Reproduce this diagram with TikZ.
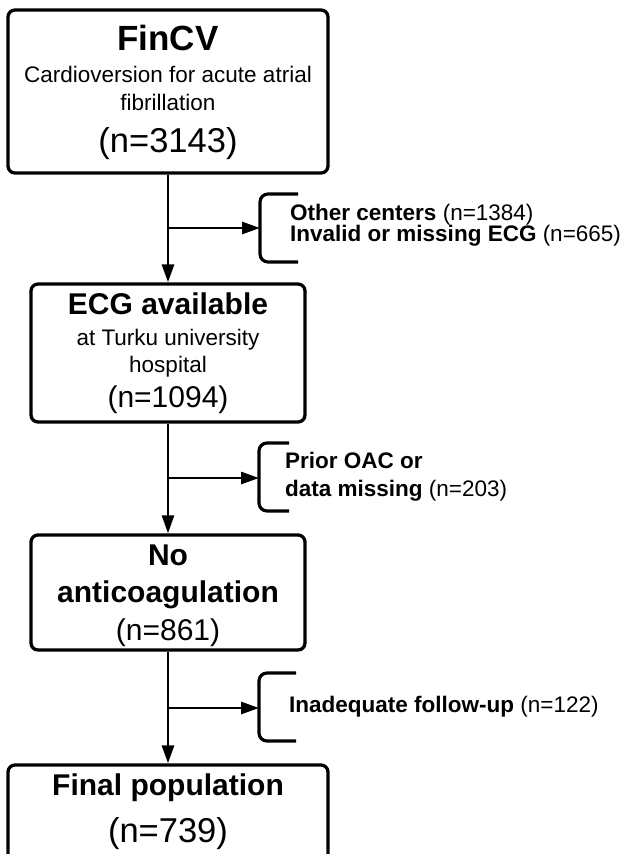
\documentclass[tikz,border=0pt]{standalone}
\usepackage{fontspec}
\setmainfont{Liberation Sans}
\usetikzlibrary{arrows.meta}
\tikzset{
  box/.style={draw=black, line width=3.3pt, rounded corners=7pt, fill=white, inner sep=0pt},
  conn/.style={draw=black, line width=2.8pt, -{Triangle[length=18pt,width=12pt]}},
  brack/.style={draw=black, line width=3.2pt, rounded corners=8pt},
  txt/.style={anchor=base, inner sep=0pt, text=black},
  side/.style={anchor=base west, inner sep=0pt, text=black, font=\fontsize{22.5}{27}\selectfont},
}
\newcommand{\fsz}[1]{\fontsize{#1}{#1}\selectfont}
\begin{document}
\begin{tikzpicture}[x=1pt,y=-1pt]
\useasboundingbox (0,0) rectangle (626,854);
\clip (0,0) rectangle (626,854);
\fill[white] (0,0) rectangle (626,854);

% boxes
\node[box, minimum width=320pt, minimum height=163pt] (b1) at (168,91.5) {};
\node[box, minimum width=274pt, minimum height=138pt] (b2) at (168,353) {};
\node[box, minimum width=274pt, minimum height=115pt] (b3) at (168,592.5) {};
\node[box, minimum width=320pt, minimum height=110pt] (b4) at (168,820) {};

% box texts
\node[txt, font=\fsz{35}\bfseries] (t1a) at (168,50) {FinCV};
\node[txt, font=\fsz{22.5}] (t1b) at (168,82) {Cardioversion for acute atrial};
\node[txt, font=\fsz{22.5}] (t1c) at (168,110) {fibrillation};
\node[txt, font=\fsz{34.5}] (t1d) at (168,152) {(n=3143)};

\node[txt, font=\fsz{30}\bfseries] (t2a) at (168,314) {ECG available};
\node[txt, font=\fsz{22.5}] (t2b) at (168,345) {at Turku university};
\node[txt, font=\fsz{22.5}] (t2c) at (168,372) {hospital};
\node[txt, font=\fsz{30}] (t2d) at (168,407) {(n=1094)};

\node[txt, font=\fsz{30}\bfseries] (t3a) at (168,565) {No};
\node[txt, font=\fsz{30}\bfseries] (t3b) at (168,602) {anticoagulation};
\node[txt, font=\fsz{30}] (t3c) at (168,640) {(n=861)};

\node[txt, font=\fsz{30}\bfseries] (t4a) at (168,795) {Final population};
\node[txt, font=\fsz{34.5}] (t4b) at (168,842) {(n=739)};

% main flow
\draw[conn] (b1.south) -- (b2.north);
\draw[conn] (b2.south) -- (b3.north);
\draw[conn] (b3.south) -- (b4.north);

% exclusion 1
\coordinate (j1) at (168,228);
\coordinate (k1) at (260,228);
\draw[brack] (298,194) -| (k1) |- (298,262);
\draw[conn] (j1) -- (k1);
\node[side] (s1a) at (290,220) {\textbf{Other centers} (n=1384)};
\node[side] (s1b) at (290,241) {\textbf{Invalid or missing ECG} (n=665)};

% exclusion 2
\coordinate (j2) at (168,478);
\coordinate (k2) at (259,478);
\draw[brack] (289,443) -| (k2) |- (289,511);
\draw[conn] (j2) -- (k2);
\node[side] (s2a) at (285,468) {\textbf{Prior OAC or}};
\node[side] (s2b) at (285,496) {\textbf{data missing} (n=203)};

% exclusion 3
\coordinate (j3) at (168,708);
\coordinate (k3) at (259,708);
\draw[brack] (296,673) -| (k3) |- (296,741);
\draw[conn] (j3) -- (k3);
\node[side] (s3a) at (289,712) {\textbf{Inadequate follow-up} (n=122)};
\end{tikzpicture}
\end{document}
